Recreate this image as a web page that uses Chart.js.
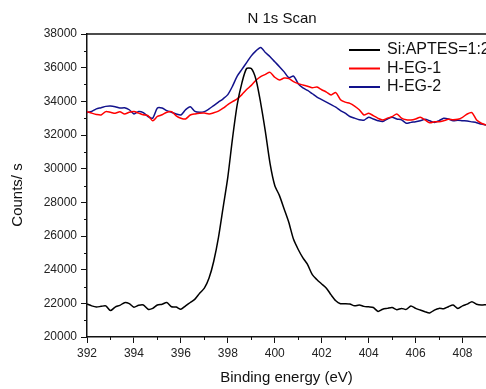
<!DOCTYPE html>
<html>
<head>
<meta charset="utf-8">
<script src="https://cdn.jsdelivr.net/npm/chart.js@4.4.1/dist/chart.umd.min.js"></script>
<style>
  html, body { margin: 0; padding: 0; background: #fff; }
  #wrap { width: 486px; height: 389px; }
</style>
</head>
<body>
<div id="wrap"><canvas id="xps"></canvas></div>
<script>
// binding energy (eV), 0.2 eV steps
const energia = [
  392.0,392.2,392.4,392.6,392.8,393.0,393.2,393.4,393.6,393.8,
  394.0,394.2,394.4,394.6,394.8,395.0,395.2,395.4,395.6,395.8,
  396.0,396.2,396.4,396.6,396.8,397.0,397.2,397.4,397.6,397.8,
  398.0,398.2,398.4,398.6,398.8,399.0,399.2,399.4,399.6,399.8,
  400.0,400.2,400.4,400.6,400.8,401.0,401.2,401.4,401.6,401.8,
  402.0,402.2,402.4,402.6,402.8,403.0,403.2,403.4,403.6,403.8,
  404.0,404.2,404.4,404.6,404.8,405.0,405.2,405.4,405.6,405.8,
  406.0,406.2,406.4,406.6,406.8,407.0,407.2,407.4,407.6,407.8,
  408.0,408.2,408.4,408.6,408.8,409.0
];

const siAptes = [
  21960,21850,21780,21820,21850,21570,21780,21880,22040,21980,
  21770,21880,21900,21650,21700,21900,21950,22050,21800,21780,
  21650,21850,22050,22250,22600,22900,23500,24500,25900,27700,
  29500,31800,33800,35100,35950,35950,35300,33900,32200,30300,
  29000,28400,27600,26800,25800,25200,24700,24300,23700,23400,
  23150,22900,22500,22150,21980,21980,21960,21850,21900,21820,
  21790,21750,21520,21650,21700,21750,21620,21700,21640,21840,
  21700,21600,21500,21430,21600,21700,21680,21800,21900,21700,
  21850,21950,22100,21950,21900,21920
];

const hEg1 = [
  33390,33300,33220,33190,33390,33350,33290,33380,33250,33350,
  33390,33300,33200,33150,32850,33100,33200,33350,33390,33140,
  33000,32950,33190,33250,33290,33300,33250,33320,33420,33590,
  33800,33980,34150,34400,34700,34950,35250,35470,35600,35720,
  35430,35270,35380,35350,35170,35050,34970,34900,34810,34850,
  34690,34550,34380,34520,34100,33950,33880,33720,33500,33190,
  33290,33150,32990,32890,33000,33090,33250,33000,32900,32890,
  32950,33060,32900,32730,32780,32790,32850,32930,32900,32930,
  33050,33250,33330,32890,32700,32590
];

const hEg2 = [
  33330,33400,33550,33620,33700,33720,33680,33600,33620,33500,
  33250,33400,33330,33100,33000,33600,33600,33450,33350,33250,
  33190,33500,33680,33400,33350,33390,33550,33750,33950,34150,
  34400,34900,35500,35900,36300,36700,37000,37200,36900,36650,
  36350,36060,35750,35400,35500,35050,34800,34650,34450,34250,
  34100,33950,33800,33650,33450,33300,33100,33000,32900,32880,
  33060,32950,32850,32800,32950,33060,32950,32900,32700,32750,
  32790,32850,32930,32850,32750,32850,32990,32950,32850,32880,
  32850,32830,32780,32730,32650,32590
];

const nombres = ['Si:APTES=1:2', 'H-EG-1', 'H-EG-2'];
const colores = ['#000000', '#ff0000', '#12128c'];
const ticksX = [392, 394, 396, 398, 400, 402, 404, 406, 408];

const fuente = "'Liberation Sans', Arial, sans-serif";

function puntos(ys) {
  return ys.map((y, i) => ({ x: energia[i], y: y }));
}

// minor ticks, top frame line, titles and the legend inside the plot
const extras = {
  id: 'extras',
  afterDraw(chart) {
    const ctx = chart.ctx;
    const area = chart.chartArea;
    const sx = chart.scales.x;
    const sy = chart.scales.y;
    ctx.save();
    ctx.strokeStyle = '#111';
    ctx.lineWidth = 1;
    for (let v = 393; v <= 409; v += 2) {
      const px = Math.round(sx.getPixelForValue(v)) + 0.5;
      ctx.beginPath();
      ctx.moveTo(px, area.bottom);
      ctx.lineTo(px, area.bottom + 3);
      ctx.stroke();
    }
    for (let v = 21000; v <= 37000; v += 2000) {
      const py = Math.round(sy.getPixelForValue(v)) + 0.5;
      ctx.beginPath();
      ctx.moveTo(area.left, py);
      ctx.lineTo(area.left - 3, py);
      ctx.stroke();
    }
    // top border
    ctx.lineWidth = 1.5;
    ctx.beginPath();
    ctx.moveTo(area.left, area.top);
    ctx.lineTo(chart.width, area.top);
    ctx.stroke();

    ctx.font = '15px ' + fuente;
    ctx.fillStyle = '#111';
    // chart title
    ctx.textAlign = 'center';
    ctx.textBaseline = 'middle';
    ctx.fillText('N 1s Scan', 282, 19);
    // y title
    ctx.save();
    ctx.translate(18, 195);
    ctx.rotate(-Math.PI / 2);
    ctx.fillText('Counts/ s', 0, 0);
    ctx.restore();

    // legend
    ctx.font = '16px ' + fuente;
    ctx.textAlign = 'left';
    chart.data.datasets.forEach((ds, i) => {
      const y = 50 + i * 18.5;
      ctx.strokeStyle = ds.borderColor;
      ctx.lineWidth = 2;
      ctx.beginPath();
      ctx.moveTo(349, y);
      ctx.lineTo(380, y);
      ctx.stroke();
      ctx.fillStyle = '#111';
      ctx.fillText(ds.label, 387, y);
    });
    ctx.restore();
  }
};

const ctxGrafico = document.getElementById('xps').getContext('2d');
new Chart(ctxGrafico, {
  type: 'line',
  data: {
    datasets: [siAptes, hEg1, hEg2].map((serie, i) => ({
      label: nombres[i],
      data: puntos(serie),
      borderColor: colores[i],
      borderWidth: 1.5,
      pointRadius: 0,
      tension: 0.25,
      fill: false
    }))
  },
  options: {
    responsive: true,
    maintainAspectRatio: false,
    animation: false,
    layout: { padding: { top: 34, left: 0, right: 0, bottom: 0 } },
    plugins: {
      legend: { display: false },
      tooltip: { enabled: false },
      title: { display: false }
    },
    scales: {
      x: {
        type: 'linear',
        min: 392,
        max: 409,
        ticks: {
          color: '#222',
          padding: 3,
          maxRotation: 0,
          autoSkip: false,
          font: { family: fuente, size: 12 },
          callback: (v) => String(v)
        },
        afterBuildTicks: (s) => { s.ticks = ticksX.map(v => ({ value: v })); },
        afterFit: (s) => { s.height = 52; },
        grid: { drawOnChartArea: false, tickLength: 6, tickColor: '#111', tickWidth: 1 },
        border: { color: '#111', width: 1.5 },
        title: {
          display: true,
          text: 'Binding energy (eV)',
          color: '#111',
          font: { family: fuente, size: 15 },
          padding: { top: 0, bottom: 2 }
        }
      },
      y: {
        min: 20000,
        max: 38000,
        ticks: {
          stepSize: 2000,
          color: '#222',
          padding: 4,
          font: { family: fuente, size: 12 },
          callback: (v) => String(v)
        },
        afterFit: (s) => { s.width = 87; },
        grid: { drawOnChartArea: false, tickLength: 6, tickColor: '#111', tickWidth: 1 },
        border: { color: '#111', width: 1.5 }
      }
    }
  },
  plugins: [extras]
});
</script>
</body>
</html>
